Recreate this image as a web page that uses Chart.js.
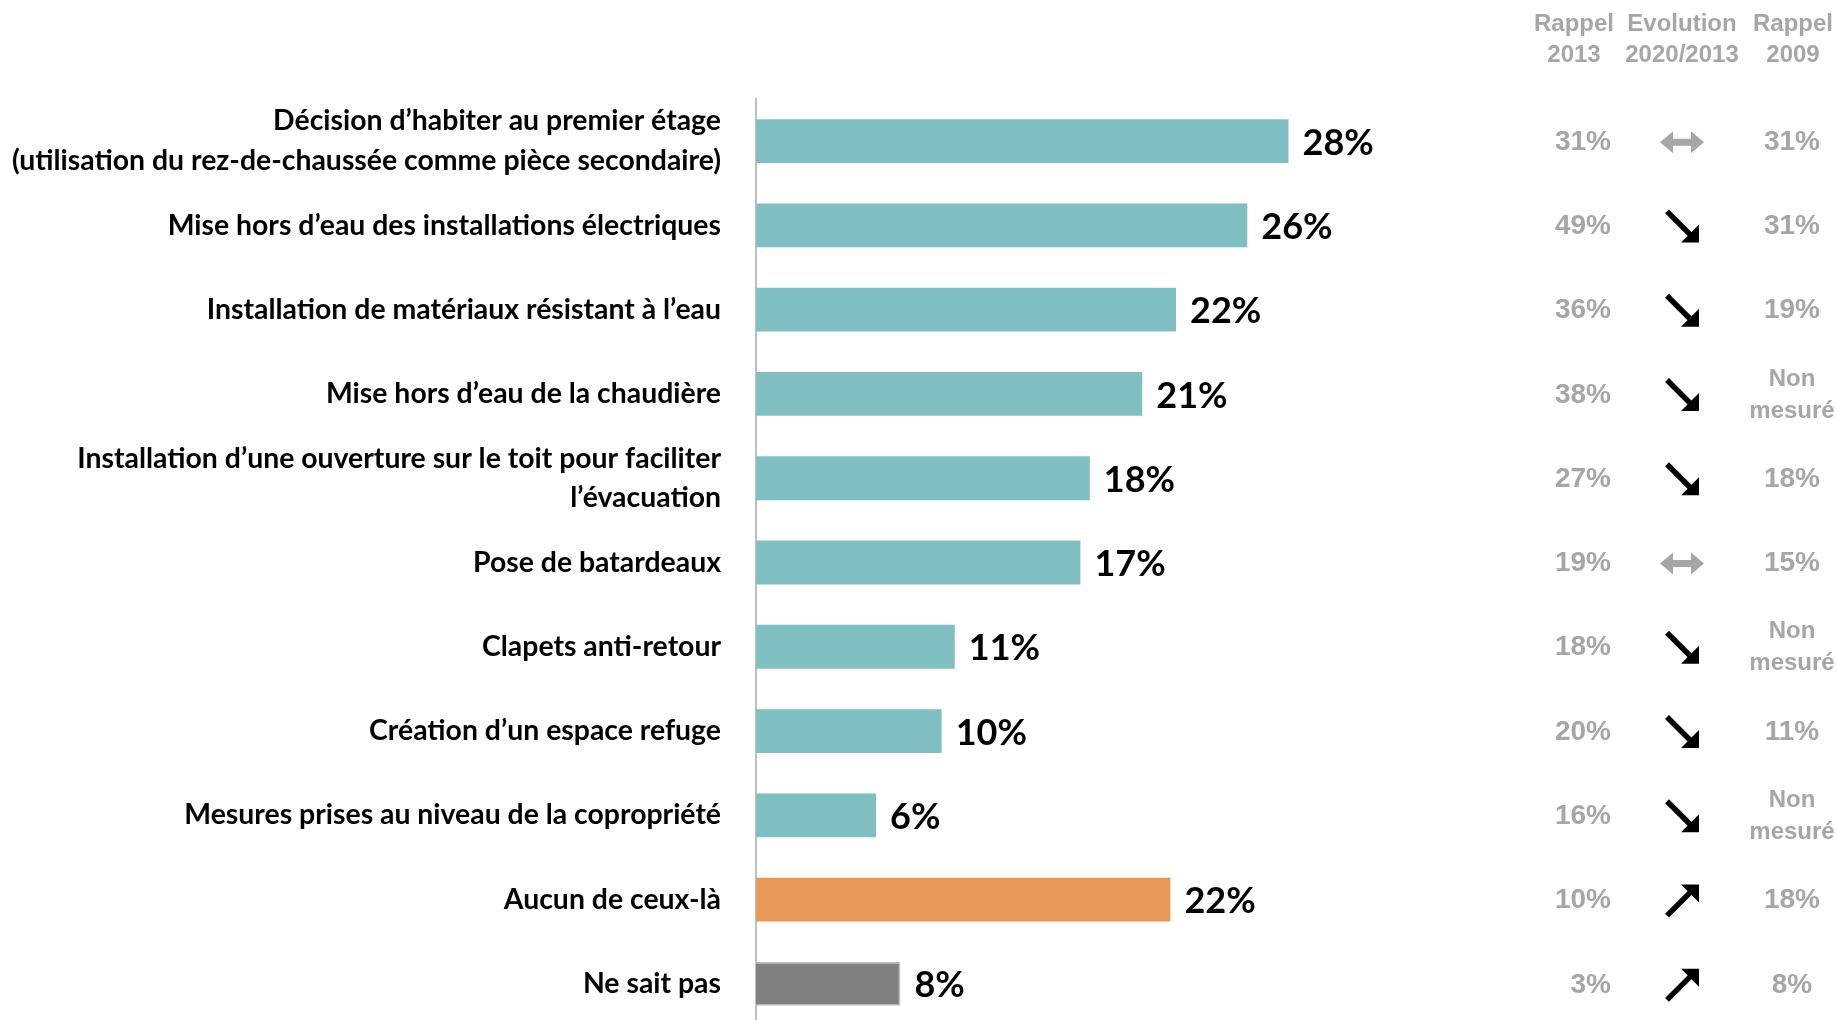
<!DOCTYPE html>
<html lang="fr">
<head>
<meta charset="utf-8">
<script src="https://cdn.jsdelivr.net/npm/chart.js@4.4.1/dist/chart.umd.min.js"></script>
<style>
  html, body { margin: 0; padding: 0; background: #fff; overflow: hidden; }
  #chart { display: block; }
</style>
</head>
<body>
<canvas id="chart" width="1837" height="1030"></canvas>
<script>
// categories (two-line labels as arrays)
const categories = [
  ['Décision d’habiter au premier étage', '(utilisation du rez-de-chaussée comme pièce secondaire)'],
  'Mise hors d’eau des installations électriques',
  'Installation de matériaux résistant à l’eau',
  'Mise hors d’eau de la chaudière',
  ['Installation d’une ouverture sur le toit pour faciliter', 'l’évacuation'],
  'Pose de batardeaux',
  'Clapets anti-retour',
  'Création d’un espace refuge',
  'Mesures prises au niveau de la copropriété',
  'Aucun de ceux-là',
  'Ne sait pas'
];

// 2020 results (%)
const values2020 = [28.4, 26.2, 22.4, 20.6, 17.8, 17.3, 10.6, 9.9, 6.4, 22.1, 7.7];

// reminder columns
const rappel2013 = ['31%', '49%', '36%', '38%', '27%', '19%', '18%', '20%', '16%', '10%', '3%'];
const evolution = ['same', 'down', 'down', 'down', 'down', 'same', 'down', 'down', 'down', 'up', 'up'];
const rappel2009 = ['31%', '31%', '19%', 'Non mesuré', '18%', '15%', 'Non mesuré', '11%', 'Non mesuré', '18%', '8%'];

const columnHeaders = [['Rappel', '2013'], ['Evolution', '2020/2013'], ['Rappel', '2009']];

const barColors = categories.map((c, i) => i < 9 ? '#80BFC1' : (i === 9 ? '#E8995A' : '#808080'));
const barBorderWidths = categories.map((c, i) => i < 10 ? 0 : 1.5);

const GREY_TEXT = '#A6A6A6';

function drawArrow(ctx, cx, cy, dir) {
  ctx.save();
  if (dir === 'same') {
    ctx.fillStyle = GREY_TEXT;
    ctx.beginPath();
    ctx.moveTo(cx - 22, cy);
    ctx.lineTo(cx - 9, cy - 11);
    ctx.lineTo(cx - 9, cy - 3.5);
    ctx.lineTo(cx + 9, cy - 3.5);
    ctx.lineTo(cx + 9, cy - 11);
    ctx.lineTo(cx + 22, cy);
    ctx.lineTo(cx + 9, cy + 11);
    ctx.lineTo(cx + 9, cy + 3.5);
    ctx.lineTo(cx - 9, cy + 3.5);
    ctx.lineTo(cx - 9, cy + 11);
    ctx.closePath();
    ctx.fill();
  } else {
    const s = dir === 'down' ? 1 : -1;
    ctx.strokeStyle = '#000';
    ctx.fillStyle = '#000';
    ctx.lineWidth = 5.5;
    ctx.beginPath();
    ctx.moveTo(cx - 15, cy - 15 * s);
    ctx.lineTo(cx + 8, cy + 8 * s);
    ctx.stroke();
    ctx.beginPath();
    ctx.moveTo(cx + 17, cy + 16 * s);
    ctx.lineTo(cx - 1, cy + 16 * s);
    ctx.lineTo(cx + 17, cy - 2 * s);
    ctx.closePath();
    ctx.fill();
  }
  ctx.restore();
}

const sidePanel = {
  id: 'sidePanel',
  afterDatasetsDraw(chart) {
    const ctx = chart.ctx;
    const meta = chart.getDatasetMeta(0);
    // value labels next to the bars
    ctx.save();
    ctx.font = 'bold 36px Lato';
    ctx.fillStyle = '#000';
    ctx.textAlign = 'left';
    ctx.textBaseline = 'middle';
    meta.data.forEach((bar, i) => {
      ctx.fillText(Math.round(values2020[i]) + '%', bar.x + 14, bar.y + 2);
    });
    ctx.restore();
  },
  afterDraw(chart) {
    const ctx = chart.ctx;
    const y = chart.scales.y;
    const colX = [1611, 1682, 1792];
    ctx.save();
    ctx.fillStyle = GREY_TEXT;
    ctx.textBaseline = 'middle';
    ctx.textAlign = 'center';
    ctx.font = 'bold 24px "Liberation Sans", Arial';
    const headX = [1574, 1682, 1793];
    columnHeaders.forEach((h, k) => {
      ctx.fillText(h[0], headX[k], 24);
      ctx.fillText(h[1], headX[k], 55);
    });
    categories.forEach((c, i) => {
      const cy = y.getPixelForValue(i) + 1;
      ctx.font = 'bold 28px "Liberation Sans", Arial';
      ctx.textAlign = 'right';
      ctx.fillText(rappel2013[i], colX[0], cy);
      ctx.textAlign = 'center';
      if (rappel2009[i].indexOf(' ') > 0) {
        const parts = rappel2009[i].split(' ');
        ctx.font = 'bold 24px "Liberation Sans", Arial';
        ctx.fillText(parts[0], colX[2], cy - 16);
        ctx.fillText(parts[1], colX[2], cy + 16);
      } else {
        ctx.fillText(rappel2009[i], colX[2], cy);
      }
      drawArrow(ctx, colX[1], cy, evolution[i]);
    });
    ctx.restore();
  }
};

function makeChart() {
  new Chart(document.getElementById('chart'), {
    type: 'bar',
    data: {
      labels: categories,
      datasets: [{
        data: values2020,
        backgroundColor: barColors,
        borderColor: '#BFBFBF',
        borderWidth: barBorderWidths,
        barPercentage: 0.52,
        categoryPercentage: 1
      }]
    },
    options: {
      indexAxis: 'y',
      responsive: false,
      animation: false,
      layout: { padding: { top: 99, bottom: 4, left: 0, right: 331 } },
      plugins: { legend: { display: false }, tooltip: { enabled: false } },
      scales: {
        x: { display: false, min: 0, max: 40 },
        y: {
          afterFit(scale) {
            scale.width = 756;
            scale.paddingTop = 0;
            scale.paddingBottom = 0;
          },
          grid: { display: false, drawTicks: false },
          border: { display: true, color: '#BFBFBF', width: 2 },
          ticks: {
            color: '#000',
            padding: 35,
            font: { family: 'Lato', weight: 'bold', size: 28.4, lineHeight: 1.4 }
          }
        }
      }
    },
    plugins: [sidePanel]
  });
}

Promise.all([
  document.fonts.load('bold 28px Lato'),
  document.fonts.load('bold 36px Lato'),
  document.fonts.load('bold 24px "Liberation Sans"')
]).then(makeChart, makeChart);
</script>
</body>
</html>
